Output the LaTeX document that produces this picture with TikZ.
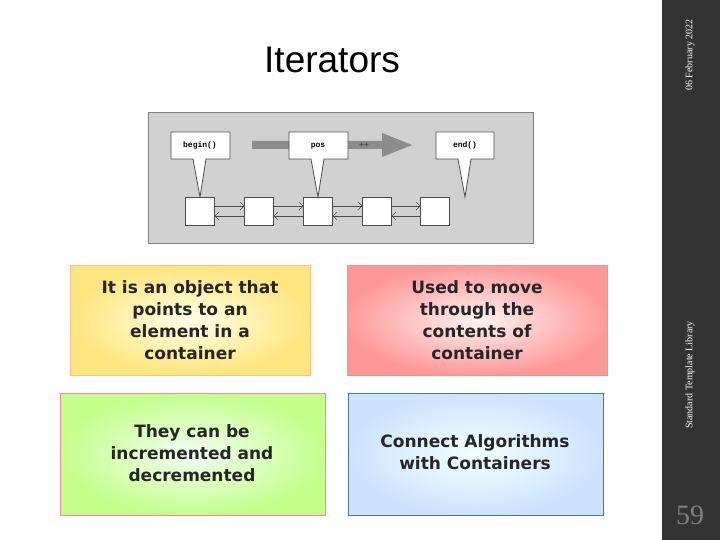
\documentclass[tikz,border=0pt]{standalone}
\usepackage{fontspec}
\setmainfont{Liberation Sans}
\newfontfamily\serifo{Liberation Serif}
\newfontfamily\monoo{Liberation Mono}
\newfontfamily\rounded{DejaVu Sans}
\usetikzlibrary{arrows.meta}
\begin{document}
\begin{tikzpicture}[x=1pt,y=-1pt,
 cell/.style={draw=black!70,fill=white,minimum width=29pt,minimum height=28pt,inner sep=0pt},
 call/.style={draw=black!70,fill=white,line width=0.8pt},
 cardtxt/.style={align=center,font=\rounded\fontsize{17}{22}\selectfont\bfseries,text=black!85},
 lnk/.style={draw=black!70,-{Straight Barb[length=4pt]}}]
\useasboundingbox (0,0) rectangle (720,540);
\fill[white] (0,0) rectangle (720,540);
\fill[black!80] (662,0) rectangle (720,540);
\node[rotate=90,text=white,font=\serifo\fontsize{10}{11}\selectfont] (date) at (690,55) {06 February 2022};
\node[rotate=90,text=white,font=\serifo\fontsize{10}{11}\selectfont] (lib) at (690,375) {Standard Template Library};
\node[text=black!50,font=\serifo\fontsize{28}{30}\selectfont] (pg) at (690,515) {59};
\node[font=\fontsize{37}{40}\selectfont,anchor=west,inner sep=0pt] (title) at (264,60) {Iterators};
% panel
\fill[black!18] (148,112) rectangle (533,243);
\draw[black!50] (148,112) rectangle (533,243);
\foreach \i/\x in {1/200,2/259,3/318,4/377,5/435}
  \node[cell] (c\i) at (\x,211) {};
\foreach \a/\b in {1/2,2/3,3/4,4/5}{
  \draw[lnk] ([yshift=5pt]c\a.east) -- ([yshift=5pt]c\b.west);
  \draw[lnk] ([yshift=-5pt]c\b.west) -- ([yshift=-5pt]c\a.east);}
% big arrow
\fill[black!45] (252,141) -- (382,141) -- (382,133) -- (412,145) -- (382,157) -- (382,149) -- (252,149) -- cycle;
\node[font=\monoo\fontsize{8}{9}\selectfont\bfseries,text=black!70] (pp) at (364,145) {++};
% callouts
\filldraw[call] (171,132) -- (230,132) -- (230,159) -- (206,159) -- (200,197) -- (193,159) -- (171,159) -- cycle;
\node[font=\monoo\fontsize{8}{9}\selectfont\bfseries] (b) at (200,145) {begin()};
\filldraw[call] (289,132) -- (348,132) -- (348,159) -- (324,159) -- (318,197) -- (311,159) -- (289,159) -- cycle;
\node[font=\monoo\fontsize{8}{9}\selectfont\bfseries] (p) at (318,146) {pos};
\filldraw[call] (436,132) -- (494,132) -- (494,159) -- (471,159) -- (465,197) -- (458,159) -- (436,159) -- cycle;
\node[font=\monoo\fontsize{8}{9}\selectfont\bfseries] (e) at (465,145) {end()};
% cards
\shade[inner color=yellow!10,outer color=orange!40!yellow!50,draw=orange!50] (70,265) rectangle (310,375);
\node[cardtxt] (y) at (190,320) {It is an object that\\points to an\\element in a\\container};
\shade[inner color=red!5,outer color=red!40,draw=red!45] (347,265) rectangle (607,375);
\node[cardtxt] (r) at (477,320) {Used to move\\through the\\contents of\\container};
\shade[inner color=green!5,outer color=green!35!lime!45,draw=red!45] (60,393) rectangle (325,515);
\node[cardtxt] (g) at (192,453) {They can be\\incremented and\\decremented};
\shade[inner color=cyan!5,outer color=cyan!45!blue!20,draw=cyan!50!black] (348,393) rectangle (603,515);
\node[cardtxt] (bl) at (475,452) {Connect Algorithms\\with Containers};
\end{tikzpicture}
\end{document}
